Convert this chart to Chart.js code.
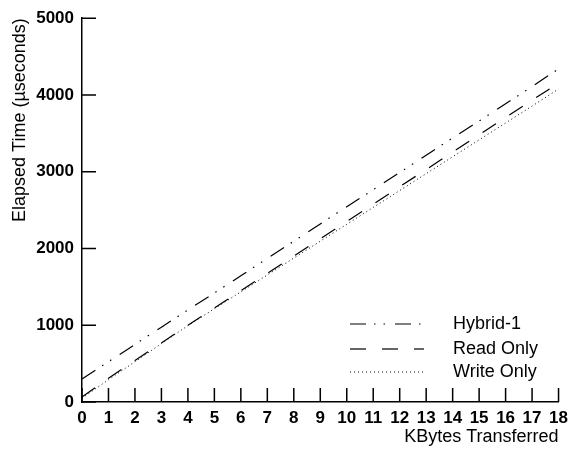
<!DOCTYPE html>
<html>
<head>
<meta charset="utf-8">
<script src="https://cdn.jsdelivr.net/npm/chart.js@4.4.1/dist/chart.umd.min.js"></script>
<style>
  html, body { margin: 0; padding: 0; background: #fff; }
</style>
</head>
<body>
<canvas id="chart" width="574" height="452"></canvas>
<script>
const kbytes = [0, 1, 2, 3, 4, 5, 6, 7, 8, 9, 10, 11, 12, 13, 14, 15, 16, 17, 18];
const hybrid = [300, 525, 750, 975, 1200, 1420, 1645, 1870, 2095, 2320, 2545, 2765, 2990, 3215, 3440, 3660, 3885, 4110, 4340];
const readOnly = [65, 310, 540, 770, 1000, 1225, 1451, 1676, 1902, 2127, 2353, 2578, 2804, 3029, 3255, 3480, 3706, 3931, 4155];
const writeOnly = [50, 290, 525, 760, 995, 1215, 1435, 1655, 1875, 2095, 2315, 2535, 2755, 2975, 3195, 3415, 3635, 3855, 4078];
const yTicks = [0, 1000, 2000, 3000, 4000, 5000];

const labelFont = { family: "'Liberation Sans', Arial, sans-serif", size: 18 };
const tickFont = { family: "'Liberation Sans', Arial, sans-serif", size: 17, weight: "bold" };

function toPoints(ys) {
  return kbytes.map((x, i) => ({ x: x, y: ys[i] }));
}

// tick marks pointing into the plot, like the original
const innerTicks = {
  id: "innerTicks",
  afterDraw(chart) {
    const { ctx, chartArea, scales } = chart;
    ctx.save();
    ctx.strokeStyle = "#000";
    ctx.lineWidth = 1.5;
    ctx.beginPath();
    scales.x.ticks.forEach((t, i) => {
      const px = scales.x.getPixelForTick(i);
      ctx.moveTo(px, chartArea.bottom);
      ctx.lineTo(px, chartArea.bottom - 14);
    });
    scales.y.ticks.forEach((t, i) => {
      const py = scales.y.getPixelForTick(i);
      ctx.moveTo(chartArea.left, py);
      ctx.lineTo(chartArea.left + 14, py);
    });
    ctx.stroke();
    ctx.restore();
  }
};

// legend inside the plot, bottom right
const lineLegend = {
  id: "lineLegend",
  afterDraw(chart) {
    const { ctx } = chart;
    const x0 = 350, x1 = 424, tx = 453;
    const rows = [324, 349, 372];
    ctx.save();
    chart.data.datasets.forEach((ds, i) => {
      const y = rows[i];
      ctx.strokeStyle = ds.borderColor;
      ctx.lineWidth = ds.borderWidth;
      ctx.setLineDash(ds.borderDash);
      ctx.beginPath();
      ctx.moveTo(x0, y);
      ctx.lineTo(x1, y);
      ctx.stroke();
      ctx.setLineDash([]);
      ctx.fillStyle = "#000";
      ctx.font = labelFont.size + "px " + labelFont.family;
      ctx.textBaseline = "middle";
      ctx.textAlign = "left";
      ctx.fillText(ds.label, tx, y);
    });
    ctx.restore();
  }
};

new Chart(document.getElementById("chart"), {
  type: "line",
  data: {
    datasets: [
      { label: "Hybrid-1", data: toPoints(hybrid), borderColor: "#000", borderWidth: 1.2, borderDash: [16, 8, 1.5, 8, 1.5, 10] },
      { label: "Read Only", data: toPoints(readOnly), borderColor: "#000", borderWidth: 1.2, borderDash: [16, 16] },
      { label: "Write Only", data: toPoints(writeOnly), borderColor: "#000", borderWidth: 1, borderDash: [1, 3] }
    ]
  },
  options: {
    responsive: false,
    animation: false,
    layout: { padding: { top: 17, right: 12, left: 0, bottom: 0 } },
    elements: { point: { radius: 0 }, line: { tension: 0 } },
    plugins: { legend: { display: false }, tooltip: { enabled: false } },
    scales: {
      x: {
        type: "linear",
        min: 0,
        max: 18,
        afterBuildTicks: s => { s.ticks = kbytes.map(v => ({ value: v })); },
        afterFit: s => { s.height = 50; },
        grid: { display: false, drawTicks: false },
        border: { display: true, color: "#000", width: 1.5 },
        ticks: { color: "#000", font: tickFont, padding: 6, maxRotation: 0, autoSkip: false, callback: v => String(v) },
        title: { display: true, text: "KBytes Transferred", align: "end", color: "#000", font: labelFont, padding: { top: 0, bottom: 4 } }
      },
      y: {
        min: 0,
        max: 5000,
        afterBuildTicks: s => { s.ticks = yTicks.map(v => ({ value: v })); },
        afterFit: s => { s.width = 82; },
        grid: { display: false, drawTicks: false },
        border: { display: true, color: "#000", width: 1.5 },
        ticks: { color: "#000", font: tickFont, padding: 8, callback: v => String(v) },
        title: { display: true, text: "Elapsed Time (µseconds)", align: "end", color: "#000", font: labelFont, padding: { top: 9, bottom: 0 } }
      }
    }
  },
  plugins: [innerTicks, lineLegend]
});
</script>
</body>
</html>
